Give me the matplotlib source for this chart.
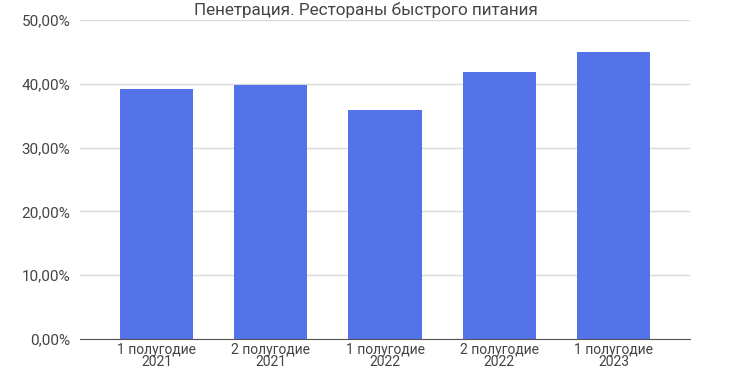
import matplotlib
matplotlib.use("Agg")
import matplotlib.pyplot as plt
from matplotlib.ticker import FuncFormatter

categories = ["1 полугодие\n2021", "2 полугодие\n2021", "1 полугодие\n2022",
              "2 полугодие\n2022", "1 полугодие\n2023"]
values = [39.2, 39.8, 35.9, 41.9, 45.0]
title = "Пенетрация. Рестораны быстрого питания"

plt.rcParams['font.family'] = ['Roboto', 'DejaVu Sans']

fig = plt.figure(figsize=(7.32, 3.72), dpi=100)
ax = fig.add_axes([0.109, 0.0887, 0.834, 0.857])
x = list(range(len(values)))
ax.bar(x, [v / 100 for v in values], width=0.64, color="#5573E9", zorder=3)
ax.set_xlim(-0.67, len(values) - 1 + 0.67)
ax.set_ylim(0, 0.5)
ax.set_yticks([0, 0.1, 0.2, 0.3, 0.4, 0.5])
ax.yaxis.set_major_formatter(FuncFormatter(lambda v, p: f"{v*100:.2f}%".replace(".", ",")))
ax.grid(axis="y", color="#d9d9d9", linewidth=1, zorder=0)
for s in ["top", "right", "left"]:
    ax.spines[s].set_visible(False)
ax.spines["bottom"].set_color("#555555")
ax.spines["bottom"].set_zorder(4)
ax.tick_params(axis="both", length=0, colors="#444444")
ax.tick_params(axis="y", pad=7, labelsize=11)
ax.tick_params(axis="x", pad=3, labelsize=10)
ax.set_xticks(x)
ax.set_xticklabels(categories, linespacing=0.8)
fig.text(0.5, 0.972, title, ha="center", va="center", fontsize=12.3, color="#444444")
fig.savefig("out.png", dpi=100)
